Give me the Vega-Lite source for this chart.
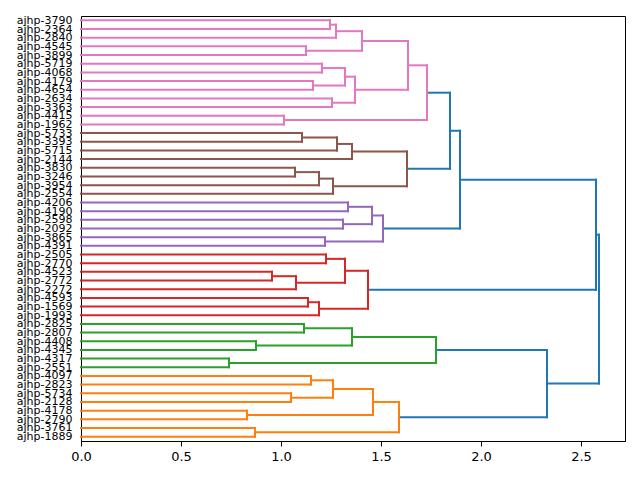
{
  "$schema": "https://vega.github.io/schema/vega-lite/v6.json",
  "width": 544,
  "height": 425,
  "autosize": "none",
  "padding": {"left": 81, "top": 16, "right": 15, "bottom": 39},
  "background": "white",
  "config": {
    "view": {"stroke": "#000", "strokeWidth": 1},
    "font": "DejaVu Sans",
    "axis": {"labelFont": "DejaVu Sans", "labelColor": "#000", "tickColor": "#000", "domainColor": "#000", "grid": false}
  },
  "datasets": {
    "leaves": [
      {"leaf": "ajhp-3790"}, {"leaf": "ajhp-2364"}, {"leaf": "ajhp-2840"}, {"leaf": "ajhp-4545"},
      {"leaf": "ajhp-3899"}, {"leaf": "ajhp-5719"}, {"leaf": "ajhp-4068"}, {"leaf": "ajhp-4179"},
      {"leaf": "ajhp-4654"}, {"leaf": "ajhp-2634"}, {"leaf": "ajhp-3363"}, {"leaf": "ajhp-4415"},
      {"leaf": "ajhp-1962"}, {"leaf": "ajhp-5733"}, {"leaf": "ajhp-3393"}, {"leaf": "ajhp-5715"},
      {"leaf": "ajhp-2144"}, {"leaf": "ajhp-3830"}, {"leaf": "ajhp-3246"}, {"leaf": "ajhp-3954"},
      {"leaf": "ajhp-2554"}, {"leaf": "ajhp-4206"}, {"leaf": "ajhp-4190"}, {"leaf": "ajhp-2598"},
      {"leaf": "ajhp-2092"}, {"leaf": "ajhp-3865"}, {"leaf": "ajhp-4391"}, {"leaf": "ajhp-2505"},
      {"leaf": "ajhp-2770"}, {"leaf": "ajhp-4523"}, {"leaf": "ajhp-2772"}, {"leaf": "ajhp-2272"},
      {"leaf": "ajhp-4593"}, {"leaf": "ajhp-1569"}, {"leaf": "ajhp-1993"}, {"leaf": "ajhp-2825"},
      {"leaf": "ajhp-2807"}, {"leaf": "ajhp-4408"}, {"leaf": "ajhp-4345"}, {"leaf": "ajhp-4317"},
      {"leaf": "ajhp-2551"}, {"leaf": "ajhp-4097"}, {"leaf": "ajhp-2823"}, {"leaf": "ajhp-5734"},
      {"leaf": "ajhp-2128"}, {"leaf": "ajhp-4178"}, {"leaf": "ajhp-2790"}, {"leaf": "ajhp-3761"},
      {"leaf": "ajhp-1889"}
    ],
    "links": [
      {"cluster": "C1", "ya": 0, "xa": 0, "yb": 1, "xb": 0, "h": 1.245},
      {"cluster": "C1", "ya": 0.5, "xa": 1.245, "yb": 2, "xb": 0, "h": 1.275},
      {"cluster": "C1", "ya": 3, "xa": 0, "yb": 4, "xb": 0, "h": 1.125},
      {"cluster": "C1", "ya": 1.25, "xa": 1.275, "yb": 3.5, "xb": 1.125, "h": 1.405},
      {"cluster": "C1", "ya": 5, "xa": 0, "yb": 6, "xb": 0, "h": 1.205},
      {"cluster": "C1", "ya": 7, "xa": 0, "yb": 8, "xb": 0, "h": 1.16},
      {"cluster": "C1", "ya": 5.5, "xa": 1.205, "yb": 7.5, "xb": 1.16, "h": 1.32},
      {"cluster": "C1", "ya": 9, "xa": 0, "yb": 10, "xb": 0, "h": 1.255},
      {"cluster": "C1", "ya": 6.5, "xa": 1.32, "yb": 9.5, "xb": 1.255, "h": 1.37},
      {"cluster": "C1", "ya": 2.375, "xa": 1.405, "yb": 8, "xb": 1.37, "h": 1.635},
      {"cluster": "C1", "ya": 11, "xa": 0, "yb": 12, "xb": 0, "h": 1.015},
      {"cluster": "C1", "ya": 5.1875, "xa": 1.635, "yb": 11.5, "xb": 1.015, "h": 1.73},
      {"cluster": "C2", "ya": 13, "xa": 0, "yb": 14, "xb": 0, "h": 1.105},
      {"cluster": "C2", "ya": 13.5, "xa": 1.105, "yb": 15, "xb": 0, "h": 1.28},
      {"cluster": "C2", "ya": 14.25, "xa": 1.28, "yb": 16, "xb": 0, "h": 1.355},
      {"cluster": "C2", "ya": 17, "xa": 0, "yb": 18, "xb": 0, "h": 1.07},
      {"cluster": "C2", "ya": 17.5, "xa": 1.07, "yb": 19, "xb": 0, "h": 1.19},
      {"cluster": "C2", "ya": 18.25, "xa": 1.19, "yb": 20, "xb": 0, "h": 1.26},
      {"cluster": "C2", "ya": 15.125, "xa": 1.355, "yb": 19.125, "xb": 1.26, "h": 1.63},
      {"cluster": "C3", "ya": 21, "xa": 0, "yb": 22, "xb": 0, "h": 1.335},
      {"cluster": "C3", "ya": 23, "xa": 0, "yb": 24, "xb": 0, "h": 1.31},
      {"cluster": "C3", "ya": 21.5, "xa": 1.335, "yb": 23.5, "xb": 1.31, "h": 1.455},
      {"cluster": "C3", "ya": 25, "xa": 0, "yb": 26, "xb": 0, "h": 1.22},
      {"cluster": "C3", "ya": 22.5, "xa": 1.455, "yb": 25.5, "xb": 1.22, "h": 1.51},
      {"cluster": "C4", "ya": 27, "xa": 0, "yb": 28, "xb": 0, "h": 1.225},
      {"cluster": "C4", "ya": 29, "xa": 0, "yb": 30, "xb": 0, "h": 0.955},
      {"cluster": "C4", "ya": 29.5, "xa": 0.955, "yb": 31, "xb": 0, "h": 1.075},
      {"cluster": "C4", "ya": 27.5, "xa": 1.225, "yb": 30.25, "xb": 1.075, "h": 1.32},
      {"cluster": "C4", "ya": 32, "xa": 0, "yb": 33, "xb": 0, "h": 1.135},
      {"cluster": "C4", "ya": 32.5, "xa": 1.135, "yb": 34, "xb": 0, "h": 1.19},
      {"cluster": "C4", "ya": 28.875, "xa": 1.32, "yb": 33.25, "xb": 1.19, "h": 1.435},
      {"cluster": "C5", "ya": 35, "xa": 0, "yb": 36, "xb": 0, "h": 1.115},
      {"cluster": "C5", "ya": 37, "xa": 0, "yb": 38, "xb": 0, "h": 0.875},
      {"cluster": "C5", "ya": 35.5, "xa": 1.115, "yb": 37.5, "xb": 0.875, "h": 1.355},
      {"cluster": "C5", "ya": 39, "xa": 0, "yb": 40, "xb": 0, "h": 0.74},
      {"cluster": "C5", "ya": 36.5, "xa": 1.355, "yb": 39.5, "xb": 0.74, "h": 1.775},
      {"cluster": "C6", "ya": 41, "xa": 0, "yb": 42, "xb": 0, "h": 1.15},
      {"cluster": "C6", "ya": 43, "xa": 0, "yb": 44, "xb": 0, "h": 1.05},
      {"cluster": "C6", "ya": 41.5, "xa": 1.15, "yb": 43.5, "xb": 1.05, "h": 1.26},
      {"cluster": "C6", "ya": 45, "xa": 0, "yb": 46, "xb": 0, "h": 0.83},
      {"cluster": "C6", "ya": 42.5, "xa": 1.26, "yb": 45.5, "xb": 0.83, "h": 1.46},
      {"cluster": "C6", "ya": 47, "xa": 0, "yb": 48, "xb": 0, "h": 0.87},
      {"cluster": "C6", "ya": 44, "xa": 1.46, "yb": 47.5, "xb": 0.87, "h": 1.59},
      {"cluster": "C0", "ya": 8.34375, "xa": 1.73, "yb": 17.125, "xb": 1.63, "h": 1.845},
      {"cluster": "C0", "ya": 12.734375, "xa": 1.845, "yb": 24, "xb": 1.51, "h": 1.895},
      {"cluster": "C0", "ya": 18.3671875, "xa": 1.895, "yb": 31.0625, "xb": 1.435, "h": 2.575},
      {"cluster": "C0", "ya": 38, "xa": 1.775, "yb": 45.75, "xb": 1.59, "h": 2.33},
      {"cluster": "C0", "ya": 24.71484375, "xa": 2.575, "yb": 41.875, "xb": 2.33, "h": 2.59}
    ]
  },
  "layer": [
    {
      "data": {"name": "leaves"},
      "mark": {"type": "point", "opacity": 0},
      "encoding": {
        "y": {
          "field": "leaf", "type": "ordinal", "sort": null,
          "scale": {"type": "point", "padding": 0.5},
          "axis": {"title": null, "ticks": false, "domain": false, "labelFontSize": 11, "labelPadding": 9}
        },
        "x": {"datum": 0, "type": "quantitative", "scale": {"domain": [0, 2.72], "nice": false, "zero": false}}
      }
    },
    {
      "data": {"name": "links"},
      "encoding": {
        "color": {
          "field": "cluster", "type": "nominal", "legend": null,
          "scale": {
            "domain": ["C0", "C1", "C2", "C3", "C4", "C5", "C6"],
            "range": ["#1f77b4", "#e377c2", "#8c564b", "#9467bd", "#d62728", "#2ca02c", "#ff7f0e"]
          }
        }
      },
      "layer": [
        {
          "mark": {"type": "rule", "strokeWidth": 2, "strokeCap": "square"},
          "encoding": {
            "x": {"field": "xa", "type": "quantitative", "scale": {"domain": [0, 2.72], "nice": false, "zero": false},
              "axis": {"title": null, "values": [0, 0.5, 1, 1.5, 2, 2.5], "format": ".1f", "labelFontSize": 13, "tickSize": 5, "labelPadding": 4, "labelFlush": false}},
            "x2": {"field": "h"},
            "y": {"field": "ya", "type": "quantitative", "scale": {"domain": [-0.5, 48.5], "reverse": true, "nice": false, "zero": false}, "axis": null}
          }
        },
        {
          "mark": {"type": "rule", "strokeWidth": 2, "strokeCap": "square"},
          "encoding": {
            "x": {"field": "xb", "type": "quantitative"},
            "x2": {"field": "h"},
            "y": {"field": "yb", "type": "quantitative"}
          }
        },
        {
          "mark": {"type": "rule", "strokeWidth": 2, "strokeCap": "square"},
          "encoding": {
            "x": {"field": "h", "type": "quantitative"},
            "y": {"field": "ya", "type": "quantitative"},
            "y2": {"field": "yb"}
          }
        }
      ]
    }
  ],
  "resolve": {"scale": {"y": "independent"}}
}
